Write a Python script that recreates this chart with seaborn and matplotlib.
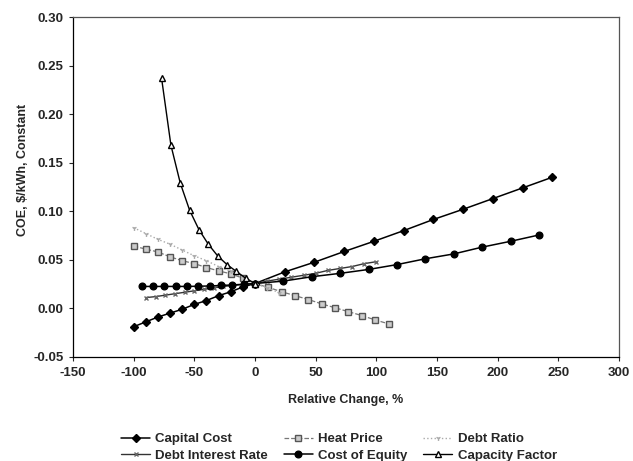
import matplotlib
matplotlib.use("Agg")
import matplotlib.pyplot as plt
import seaborn as sns
import pandas as pd

# ---- data ----
cc_x = [-100, -90, -80, -70, -60, -50, -40, -30, -20, -10, 0, 24.5, 49, 73.5, 98, 122.5, 147, 171.5, 196, 220.5, 245]
cc_y = [-0.019, -0.014, -0.009, -0.005, -0.001, 0.004, 0.008, 0.013, 0.017, 0.022, 0.0255, 0.0375, 0.0475, 0.0585, 0.069, 0.080, 0.0915, 0.102, 0.113, 0.124, 0.135]

hp_x = [-100, -90, -80, -70, -60, -50, -40, -30, -20, -10, 0, 11, 22, 33, 44, 55, 66, 77, 88, 99, 110]
hp_y = [0.064, 0.061, 0.058, 0.053, 0.049, 0.046, 0.042, 0.0385, 0.0355, 0.031, 0.0255, 0.0215, 0.017, 0.013, 0.009, 0.0045, 0.0005, -0.0035, -0.0075, -0.012, -0.016]

dr_x = [-100, -90, -80, -70, -60, -50, -40, -30, -20, -10, 0, 10, 20]
dr_y = [0.083, 0.077, 0.071, 0.066, 0.060, 0.054, 0.049, 0.043, 0.038, 0.032, 0.0255, 0.021, 0.016]

di_x = [-90, -82, -74, -66, -58, -50, -42, -34, -26, -18, -10, 0, 10, 20, 30, 40, 50, 60, 70, 80, 90, 100]
di_y = [0.011, 0.012, 0.0135, 0.015, 0.0165, 0.018, 0.0195, 0.021, 0.0225, 0.0235, 0.0245, 0.0255, 0.028, 0.030, 0.032, 0.034, 0.036, 0.039, 0.041, 0.043, 0.046, 0.048]

ce_x = [-93, -84, -75, -65, -56, -47, -37, -28, -19, -9, 0, 23.4, 46.8, 70.2, 93.6, 117, 140.4, 163.8, 187.2, 210.6, 234]
ce_y = [0.0225, 0.0225, 0.0225, 0.0225, 0.0225, 0.0227, 0.023, 0.0235, 0.024, 0.0248, 0.0255, 0.028, 0.0325, 0.036, 0.040, 0.045, 0.051, 0.056, 0.063, 0.069, 0.0755]

cf_x = [-77, -69.3, -61.6, -53.9, -46.2, -38.5, -30.8, -23.1, -15.4, -7.7, 0]
cf_y = [0.237, 0.168, 0.129, 0.101, 0.081, 0.066, 0.054, 0.045, 0.038, 0.031, 0.0255]

x_ticks = [-150, -100, -50, 0, 50, 100, 150, 200, 250, 300]
y_ticks = [-0.05, 0.00, 0.05, 0.10, 0.15, 0.20, 0.25, 0.30]

sns.set_style("ticks")
plt.rcParams["font.family"] = ["Liberation Sans", "DejaVu Sans"]
plt.rcParams["font.weight"] = "bold"

fig = plt.figure(figsize=(6.33, 4.61), dpi=100)
ax = fig.add_axes([0.1153, 0.226, 0.8627, 0.737])

styles = {
    "Capital Cost": dict(x=cc_x, y=cc_y, color="black", lw=1.1, marker="D", ms=3.8, mfc="black", mec="black", ls="-"),
    "Debt Interest Rate": dict(x=di_x, y=di_y, color="#333333", lw=1.0, marker="x", ms=3.5, mfc="#666666", mec="#666666", ls="-"),
    "Heat Price": dict(x=hp_x, y=hp_y, color="#777777", lw=0.9, marker="s", ms=4.2, mfc="#cccccc", mec="#555555", ls="--"),
    "Cost of Equity": dict(x=ce_x, y=ce_y, color="black", lw=1.1, marker="o", ms=4.8, mfc="black", mec="black", ls="-"),
    "Debt Ratio": dict(x=dr_x, y=dr_y, color="#aaaaaa", lw=1.0, marker="1", ms=3.5, mfc="#aaaaaa", mec="#aaaaaa", ls=":"),
    "Capacity Factor": dict(x=cf_x, y=cf_y, color="black", lw=1.0, marker="^", ms=5.0, mfc="white", mec="black", ls="-"),
}

for name, st in styles.items():
    df = pd.DataFrame({"x": st["x"], "y": st["y"]})
    sns.lineplot(data=df, x="x", y="y", ax=ax, color=st["color"], lw=st["lw"],
                 linestyle=st["ls"], marker=st["marker"], markersize=st["ms"],
                 markerfacecolor=st["mfc"], markeredgecolor=st["mec"],
                 markeredgewidth=1.0, sort=False, estimator=None, label=name)

ax.set_xlim(-150, 300)
ax.set_ylim(-0.05, 0.30)
ax.set_xticks(x_ticks)
ax.set_yticks(y_ticks)
ax.set_xticklabels([str(v) for v in x_ticks], fontsize=9.5, fontweight="bold")
ax.set_yticklabels([f"{v:.2f}" for v in y_ticks], fontsize=9.5, fontweight="bold")
ax.tick_params(axis="both", direction="out", length=3, width=0.8, pad=4)
ax.set_xlabel("Relative Change, %", fontsize=9, fontweight="bold", labelpad=11)
ax.set_ylabel("COE, $/kWh, Constant", fontsize=9, fontweight="bold")
ax.yaxis.set_label_coords(-0.08, 0.55)

for s in ["left", "bottom"]:
    ax.spines[s].set_color("black")
    ax.spines[s].set_linewidth(0.9)
for s in ["top", "right"]:
    ax.spines[s].set_visible(True)
    ax.spines[s].set_color("#555555")
    ax.spines[s].set_linewidth(0.9)

handles, labels = ax.get_legend_handles_labels()
leg = ax.legend(handles, labels, ncol=3, loc="upper center", bbox_to_anchor=(0.487, -0.19),
                frameon=False, fontsize=9.5, handlelength=2.2, columnspacing=1.2,
                labelspacing=0.3, handletextpad=0.4)
for t in leg.get_texts():
    t.set_fontweight("bold")

fig.savefig("out.png", dpi=100)
